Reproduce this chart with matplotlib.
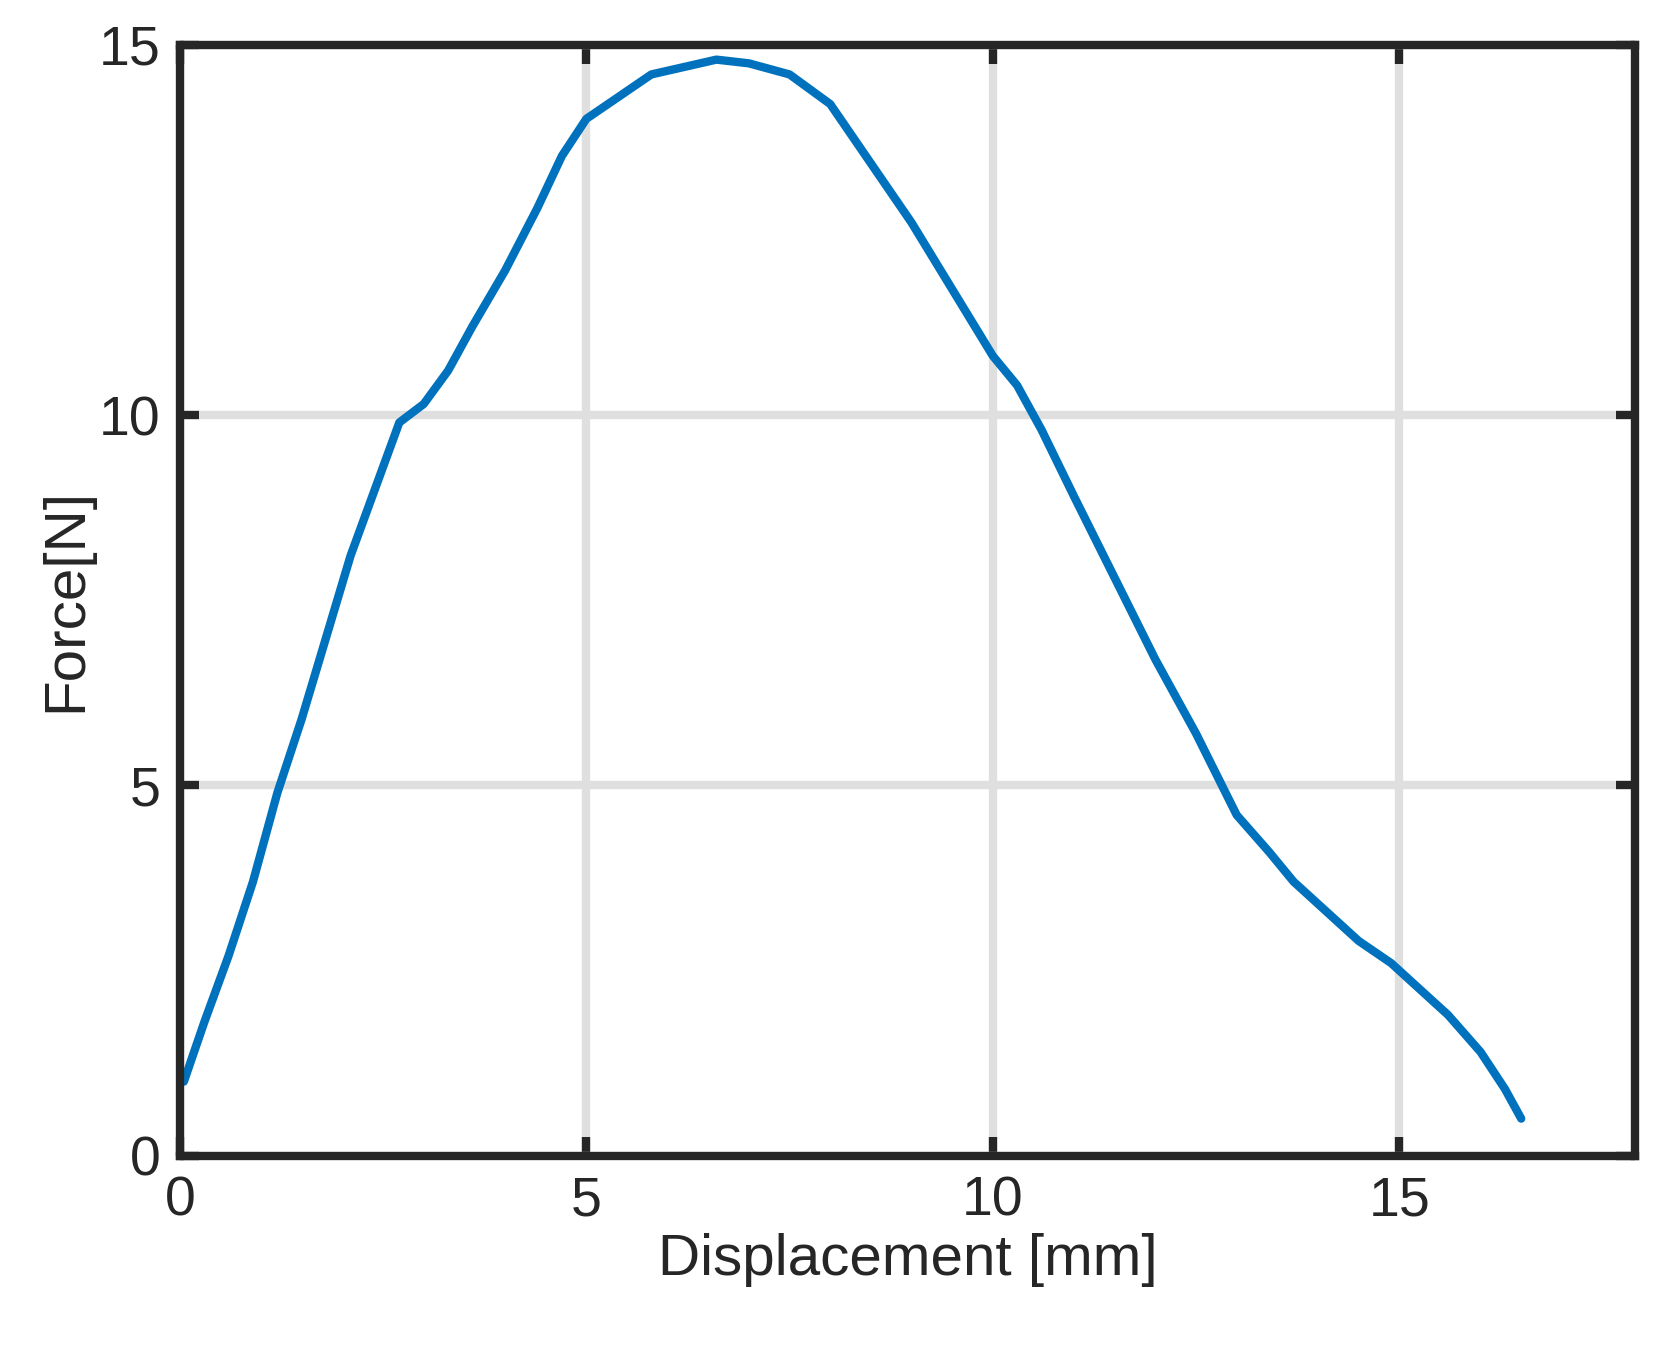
import matplotlib
matplotlib.use('Agg')
import matplotlib.pyplot as plt

# Force-displacement curve
disp = [0.05, 0.3, 0.6, 0.9, 1.2, 1.5, 1.8, 2.1, 2.4, 2.7, 3.0, 3.3, 3.6, 4.0, 4.4, 4.7, 5.0,
        5.4, 5.8, 6.2, 6.6, 7.0, 7.5, 8.0, 8.5, 9.0, 9.5, 10.0, 10.3, 10.6, 11.0, 11.5, 12.0,
        12.5, 13.0, 13.4, 13.7, 14.1, 14.5, 14.9, 15.2, 15.6, 16.0, 16.3, 16.5]
force = [1.0, 1.8, 2.7, 3.7, 4.9, 5.9, 7.0, 8.1, 9.0, 9.9, 10.0, 10.6, 11.2, 11.95, 12.8, 13.5, 14.0,
         14.3, 14.6, 14.7, 14.8, 14.75, 14.6, 14.2, 13.4, 12.6, 11.7, 10.8, 10.4, 9.8, 8.9, 7.8, 6.7,
         5.7, 4.6, 4.1, 3.7, 3.3, 2.9, 2.6, 2.3, 1.9, 1.4, 0.9, 0.5]
force[10] = 10.15

xticks = [0, 5, 10, 15]
yticks = [0, 5, 10, 15]

plt.rcParams['font.family'] = ['Liberation Sans', 'DejaVu Sans']
fig = plt.figure(figsize=(16.65, 13.58), dpi=100)
ax = fig.add_axes([0.108, 0.149, 0.874, 0.818])
ax.plot(disp, force, color='#0072BD', lw=6, solid_capstyle='round')
ax.set_xlim(0, 17.9); ax.set_ylim(0, 15)
ax.set_xticks(xticks); ax.set_yticks(yticks)
ax.grid(True, color='#dfdfdf', lw=6)
ax.set_axisbelow(True)
for s in ax.spines.values():
    s.set_linewidth(6); s.set_color('#262626')
ax.tick_params(direction='in', length=14, width=6, color='#262626', labelsize=40,
               labelcolor='#262626', pad=14, top=True, right=True)
ax.set_xlabel('Displacement [mm]', fontsize=42, color='#262626')
ax.set_ylabel('Force[N]', fontsize=42, color='#262626')
fig.savefig('out.png', dpi=100)
